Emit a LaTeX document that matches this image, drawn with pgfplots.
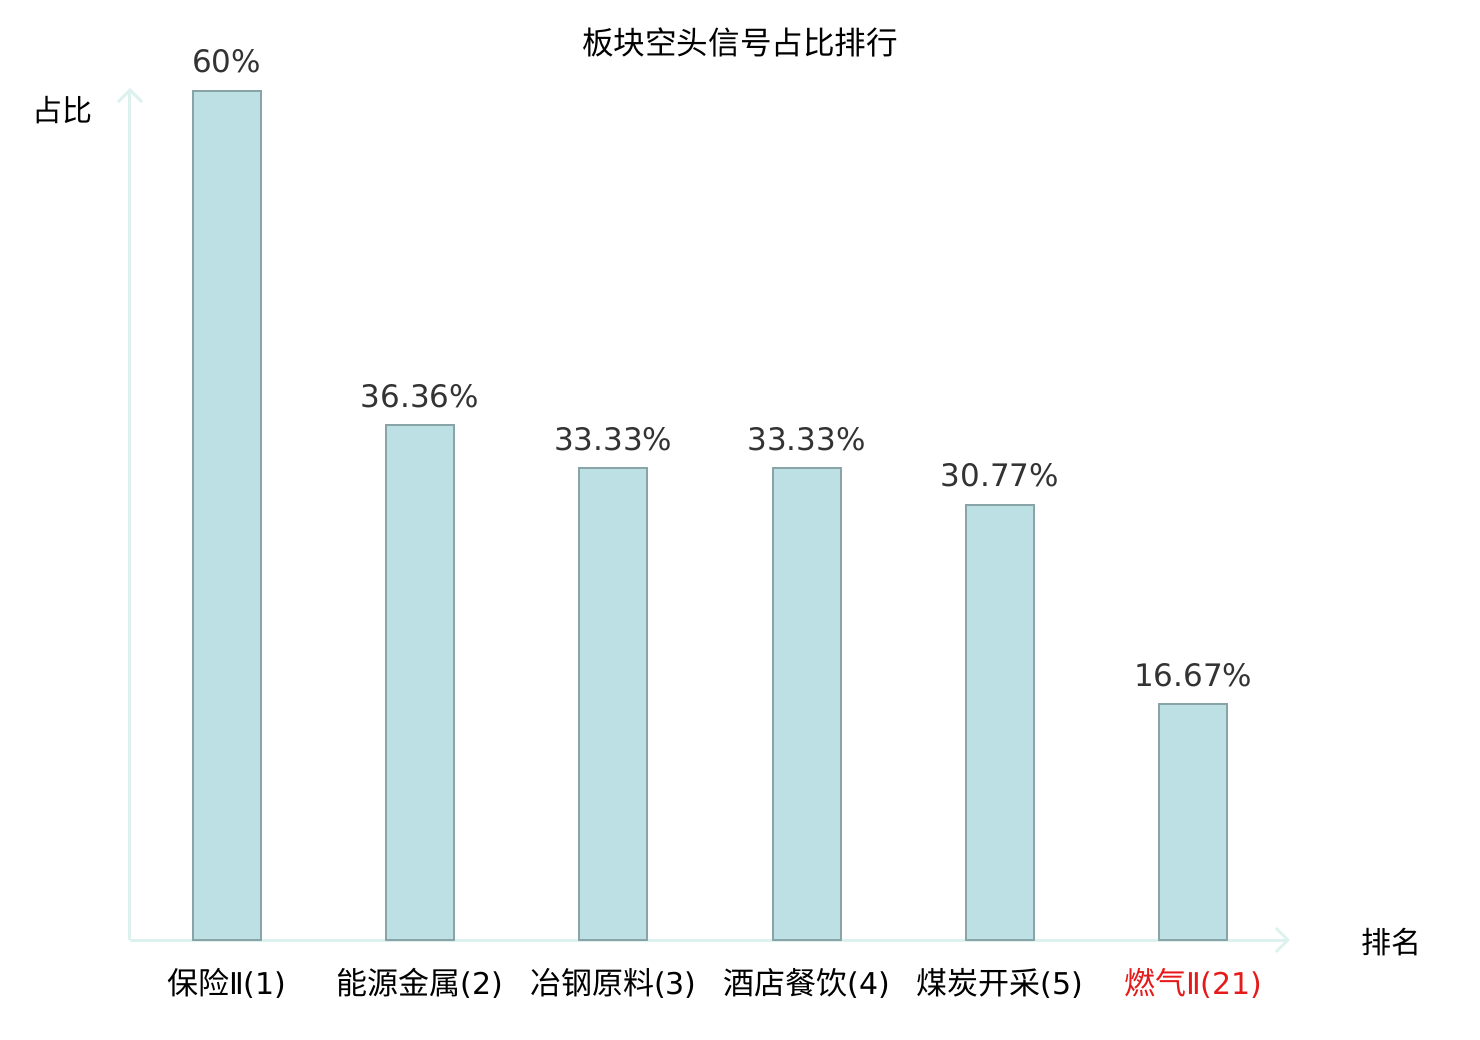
\documentclass[border=0pt]{standalone}
\usepackage{fontspec}
\setmainfont{DejaVu Sans}
\newfontfamily\cjk{Noto Sans CJK SC}
\usepackage{pgfplots}
\pgfplotsset{compat=1.18}
\usetikzlibrary{arrows.meta}
\definecolor{barfill}{HTML}{BCE0E3}
\definecolor{bardraw}{HTML}{88A4A6}
\definecolor{axiscol}{HTML}{DDF1EE}
\definecolor{valcol}{HTML}{333333}
\definecolor{redlab}{HTML}{E51A1A}
\newcommand{\lt}[1]{{\fontspec{DejaVu Sans}\fontsize{15}{18}\selectfont #1}}
\begin{document}
\begin{tikzpicture}
\begin{axis}[
  at={(0pt,0pt)}, anchor=south west,
  scale only axis,
  width=580pt, height=426pt,
  xmin=-0.5, xmax=5.5,
  ymin=0, ymax=60.2,
  axis x line=bottom, axis y line=left,
  axis line style={draw=axiscol, line width=1.5pt, -{Straight Barb[length=6pt,width=12pt,line width=1.5pt]}},
  ytick=\empty,
  xtick=data,
  xtick style={draw=none},
  xticklabels={{保险\lt{Ⅱ(1)}},{能源金属\lt{(2)}},{冶钢原料\lt{(3)}},{酒店餐饮\lt{(4)}},{煤炭开采\lt{(5)}},{\textcolor{redlab}{燃气\lt{Ⅱ(21)}}}},
  xticklabel style={font=\cjk\fontsize{15.5}{18}\selectfont, anchor=base, yshift=-25pt},
  point meta=explicit symbolic,
  nodes near coords={\pgfplotspointmeta},
  nodes near coords style={font=\fontsize{15.5}{18}\selectfont, text=valcol, anchor=base, yshift=9pt},
  clip=false,
]
\addplot[ybar, bar width=34pt, fill=barfill, draw=bardraw, line width=1pt]
  coordinates {(0,60) [60\%] (1,36.36) [36.36\%] (2,33.33) [33.33\%] (3,33.33) [33.33\%] (4,30.77) [30.77\%] (5,16.67) [16.67\%]};
\end{axis}
\node[font=\cjk\fontsize{15.8}{18}\selectfont] at (305pt,449pt) {板块空头信号占比排行};
\node[font=\cjk\fontsize{15}{18}\selectfont] at (-33.5pt,415pt) {占比};
\node[font=\cjk\fontsize{15}{18}\selectfont] at (630.5pt,-1pt) {排名};
\useasboundingbox (-65pt,-50pt) rectangle (675pt,470pt);
\end{tikzpicture}
\end{document}
